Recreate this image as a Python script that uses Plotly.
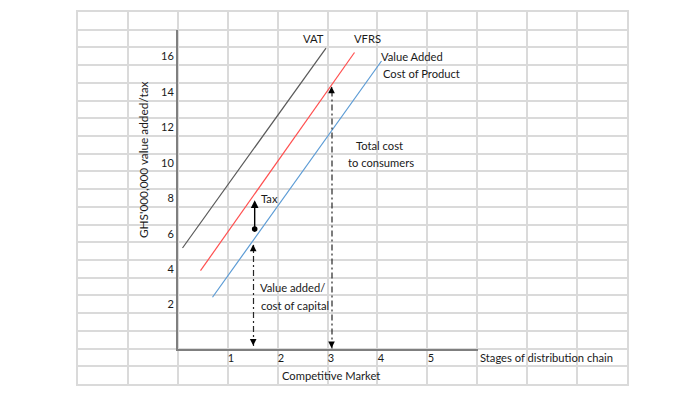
import plotly.graph_objects as go

# ---------------- data (axis units: x = stage, y = GHS'000,000) ----------------
x_ticks = [1, 2, 3, 4, 5]
x_ticktext = ["1", "2", "3", "4", "5"]
y_ticks = [2, 4, 6, 8, 10, 12, 14, 16]
y_ticktext = ["2", "4", "6", "8", "10", "12", "14", "16"]

vat_x = [0.09, 2.96]
vat_y = [5.70, 16.98]
vfrs_x = [0.45, 3.53]
vfrs_y = [4.42, 16.73]
va_x = [0.69, 4.07]
va_y = [2.92, 16.25]

# dash-dot guide arrows (x, y_bottom, y_top)
guide1_x = [1.51, 1.51]
guide1_y = [0.17, 5.87]
guide2_x = [3.08, 3.08]
guide2_y = [0.03, 14.79]
# tax arrow
tax_x = [1.54, 1.54]
tax_y = [6.66, 8.37]

labels = ["VAT", "VFRS", "Value Added", "Cost of Product", "Total cost",
          "to consumers", "Tax", "Value added/", "cost of capital",
          "Stages of distribution chain", "Competitive Market"]
label_x = [2.96, 3.48, 4.04, 4.08, 3.52, 3.36, 1.62, 1.60, 1.62, 6.02, 2.04]
label_y = [17.5, 17.5, 16.49, 15.53, 11.46, 10.5, 8.47, 3.44, 2.43, -0.51, -1.52]
label_anchor = ["right", "left", "left", "left", "left", "left", "left",
                "left", "left", "left", "left"]

y_title = "GHS'000,000 value added/tax"

FONT = "Lato"
TXT = "#1a1a1a"

fig = go.Figure()

# invisible trace keeps the spreadsheet-grid subplot rendered underneath
fig.add_trace(go.Scatter(x=[None], y=[None], mode="lines", xaxis="x", yaxis="y",
                         showlegend=False, hoverinfo="skip"))

fig.add_trace(go.Scatter(x=vat_x, y=vat_y, mode="lines", xaxis="x2", yaxis="y2",
                         line=dict(color="#595959", width=1.2), showlegend=False))
fig.add_trace(go.Scatter(x=vfrs_x, y=vfrs_y, mode="lines", xaxis="x2", yaxis="y2",
                         line=dict(color="#ff4f4f", width=1.2), showlegend=False))
fig.add_trace(go.Scatter(x=va_x, y=va_y, mode="lines", xaxis="x2", yaxis="y2",
                         line=dict(color="#5b9bd5", width=1.2), showlegend=False))
for gx, gy in [(guide1_x, guide1_y), (guide2_x, guide2_y)]:
    fig.add_trace(go.Scatter(x=gx, y=gy, mode="lines", xaxis="x2", yaxis="y2",
                             line=dict(color="#262626", width=1.2, dash="6px,3px,2px,3px"),
                             showlegend=False))

annotations = []
# arrow heads on guides (short arrows ending at each tip)
for gx, gy in [(guide1_x, guide1_y), (guide2_x, guide2_y)]:
    for i, d in [(0, 1), (1, -1)]:
        annotations.append(dict(x=gx[i], y=gy[i], xref="x", yref="y",
                                ax=0, ay=-7 * d, axref="pixel", ayref="pixel",
                                showarrow=True, arrowhead=2, arrowsize=1.1,
                                arrowwidth=1.2, arrowcolor="#000000", text=""))
# tax arrow
annotations.append(dict(x=tax_x[1], y=tax_y[1], xref="x", yref="y",
                        ax=tax_x[0], ay=tax_y[0], axref="x", ayref="y",
                        showarrow=True, arrowhead=2, arrowsize=1.1, arrowwidth=1.4,
                        arrowside="end+start", startarrowhead=6, startarrowsize=1.0,
                        arrowcolor="#000000", text=""))
for t, lx, ly, an in zip(labels, label_x, label_y, label_anchor):
    annotations.append(dict(x=lx, y=ly, xref="x", yref="y", text=t, showarrow=False,
                            xanchor=an, yanchor="middle",
                            font=dict(family=FONT, size=11.2, color=TXT)))
annotations.append(dict(x=143 / 700, y=(395 - 160) / 395, xref="paper", yref="paper",
                        text=y_title, textangle=-90, showarrow=False,
                        xanchor="center", yanchor="middle",
                        font=dict(family=FONT, size=11.8, color=TXT)))

GRID = "#dadada"
fig.update_layout(
    width=700, height=395,
    margin=dict(l=0, r=0, t=0, b=0),
    paper_bgcolor="white", plot_bgcolor="rgba(0,0,0,0)",
    showlegend=False,
    annotations=annotations,
    shapes=[dict(type="rect", xref="paper", yref="paper",
                 x0=130 / 700, x1=160 / 700, y0=(395 - 250) / 395, y1=(395 - 50) / 395,
                 fillcolor="white", line=dict(width=0), layer="between")],
    # spreadsheet grid
    xaxis=dict(domain=[78 / 700, 627 / 700], range=[-2, 9], dtick=1, tick0=0,
               showgrid=True, gridcolor=GRID, gridwidth=1.5, zeroline=False,
               showticklabels=False, ticks="", showline=True, mirror=True,
               linecolor=GRID, linewidth=1.5, fixedrange=True),
    yaxis=dict(domain=[11 / 395, 383 / 395], range=[-2, 19], dtick=1, tick0=0,
               showgrid=True, gridcolor=GRID, gridwidth=1.5, zeroline=False,
               showticklabels=False, ticks="", showline=True, mirror=True,
               linecolor=GRID, linewidth=1.5, fixedrange=True),
    # chart axes
    xaxis2=dict(domain=[178 / 700, 478 / 700], range=[0, 6], anchor="y2",
                tickvals=x_ticks, ticktext=x_ticktext, ticks="", showgrid=False,
                zeroline=False, showline=True, linecolor="#7f7f7f", linewidth=2,
                ticklabelshift=3, ticklabelstandoff=-2,
                tickfont=dict(family=FONT, size=11, color=TXT)),
    yaxis2=dict(domain=[46 / 395, 365 / 395], range=[0, 18], anchor="x2",
                tickvals=y_ticks, ticktext=y_ticktext, ticks="", showgrid=False,
                zeroline=False, showline=True, linecolor="#7f7f7f", linewidth=2,
                ticklabelshift=-9, ticklabelstandoff=0,
                tickfont=dict(family=FONT, size=11, color=TXT)),
)

fig.write_html("out.html", post_script="document.body.style.margin='0';",
               config={"displayModeBar": False})
